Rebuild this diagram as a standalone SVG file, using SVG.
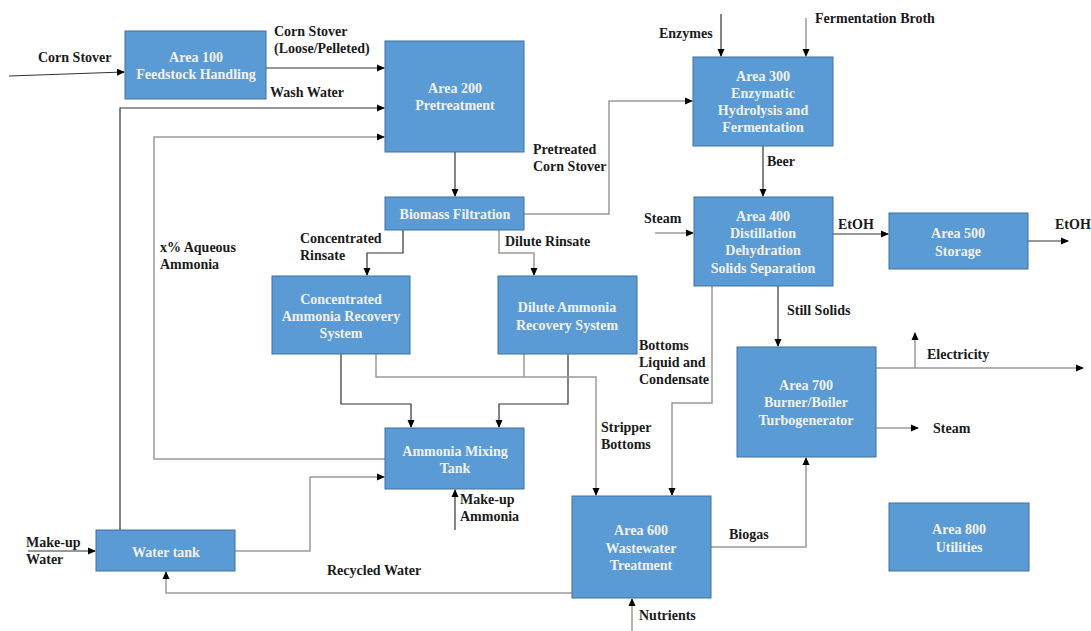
<svg xmlns="http://www.w3.org/2000/svg" width="1091" height="631" viewBox="0 0 1091 631">
<defs>
<marker id="ah" markerWidth="8" markerHeight="8" refX="7" refY="4" orient="auto" markerUnits="userSpaceOnUse"><path d="M0,0.5 L8,4 L0,7.5 Z" fill="#000"/></marker>
<style>
.box{fill:#5b9bd5;stroke:#41719c;stroke-width:1}
.bt{font-family:"Liberation Serif","Times New Roman","DejaVu Serif",serif;font-weight:bold;font-size:14px;fill:#f2f2f2;text-anchor:middle}
.lb{font-family:"Liberation Serif","Times New Roman","DejaVu Serif",serif;font-weight:bold;font-size:14px;fill:#1a1a1a}
.d{fill:none;stroke:#333;stroke-width:1.2}
.g{fill:none;stroke:#9a9a9a;stroke-width:1.5}
.a{marker-end:url(#ah)}
</style>
</defs>
<rect width="1091" height="631" fill="#fff"/>
<g id="connectors">
<path class="d a" d="M9,76 L124,72"/>
<path class="d a" d="M266,68 L384,68"/>
<path class="d a" d="M120,530 L120,108 L384,108"/>
<path class="g a" d="M385,459 L154,459 L154,137 L384,137"/>
<path class="d a" d="M455,152 L455,196"/>
<path class="g a" d="M524,214 L609,214 L609,101 L692,101"/>
<path class="d a" d="M721,14 L721,56"/>
<path class="g a" d="M806,18 L806,56"/>
<path class="d a" d="M763,146 L763,196"/>
<path class="g a" d="M655,233 L693,233"/>
<path class="d a" d="M833,234 L888,234"/>
<path class="d a" d="M1028,241 L1068,241"/>
<path class="d a" d="M778,286 L778,346"/>
<path class="g a" d="M876,368 L1083,368"/>
<path class="g a" d="M915,368 L915,333"/>
<path class="g a" d="M876,428 L918,428"/>
<path class="g a" d="M711,547 L806,547 L806,458"/>
<path class="g a" d="M632,631 L632,599"/>
<path class="g a" d="M572,593 L166,593 L166,572"/>
<path class="d a" d="M28,551 L95,551"/>
<path class="g a" d="M235,551 L310,551 L310,477 L384,477"/>
<path class="d a" d="M455,530 L455,490"/>
<path class="d a" d="M403,230 L403,253 L367,253 L367,275"/>
<path class="g a" d="M499,230 L499,253 L534,253 L534,275"/>
<path class="d a" d="M341,354 L341,404 L411,404 L411,427"/>
<path class="d a" d="M568,354 L568,404 L499,404 L499,427"/>
<path class="g a" d="M376,354 L376,377 L596,377 L596,495"/>
<path class="g" d="M524,354 L524,377"/>
<path class="g a" d="M712,286 L712,403 L672,403 L672,495"/>
</g>
<g id="a100"><rect class="box" x="125" y="31" width="141" height="68"/><text class="bt" x="196" y="62">Area 100</text><text class="bt" x="196" y="79">Feedstock Handling</text></g>
<g id="a200"><rect class="box" x="385" y="41" width="139" height="111"/><text class="bt" x="455" y="93">Area 200</text><text class="bt" x="455" y="110">Pretreatment</text></g>
<g id="biomass"><rect class="box" x="385" y="197" width="139" height="33"/><text class="bt" x="455" y="219">Biomass Filtration</text></g>
<g id="a300"><rect class="box" x="693" y="57" width="140" height="89"/><text class="bt" x="763" y="81">Area 300</text><text class="bt" x="763" y="98">Enzymatic</text><text class="bt" x="763" y="115">Hydrolysis and</text><text class="bt" x="763" y="132">Fermentation</text></g>
<g id="a400"><rect class="box" x="694" y="197" width="139" height="89"/><text class="bt" x="763" y="221">Area 400</text><text class="bt" x="763" y="238">Distillation</text><text class="bt" x="763" y="255">Dehydration</text><text class="bt" x="763" y="273">Solids Separation</text></g>
<g id="a500"><rect class="box" x="889" y="213" width="139" height="56"/><text class="bt" x="958" y="238">Area 500</text><text class="bt" x="958" y="256">Storage</text></g>
<g id="conc"><rect class="box" x="272" y="276" width="138" height="78"/><text class="bt" x="341" y="304">Concentrated</text><text class="bt" x="341" y="321">Ammonia Recovery</text><text class="bt" x="341" y="338">System</text></g>
<g id="dilute"><rect class="box" x="498" y="276" width="139" height="78"/><text class="bt" x="567" y="312">Dilute Ammonia</text><text class="bt" x="567" y="330">Recovery System</text></g>
<g id="a700"><rect class="box" x="737" y="347" width="139" height="110"/><text class="bt" x="806" y="390">Area 700</text><text class="bt" x="806" y="407">Burner/Boiler</text><text class="bt" x="806" y="425">Turbogenerator</text></g>
<g id="mixing"><rect class="box" x="385" y="428" width="139" height="61"/><text class="bt" x="455" y="456">Ammonia Mixing</text><text class="bt" x="455" y="473">Tank</text></g>
<g id="a600"><rect class="box" x="572" y="496" width="139" height="102"/><text class="bt" x="641" y="535">Area 600</text><text class="bt" x="641" y="553">Wastewater</text><text class="bt" x="641" y="570">Treatment</text></g>
<g id="a800"><rect class="box" x="889" y="503" width="140" height="68"/><text class="bt" x="959" y="534">Area 800</text><text class="bt" x="959" y="552">Utilities</text></g>
<g id="watertank"><rect class="box" x="96" y="530" width="139" height="41"/><text class="bt" x="166" y="557">Water tank</text></g>
<g id="labels">
<text class="lb" x="38" y="62">Corn Stover</text>
<text class="lb" x="274" y="36">Corn Stover</text>
<text class="lb" x="274" y="53">(Loose/Pelleted)</text>
<text class="lb" x="270" y="97">Wash Water</text>
<text class="lb" x="533" y="154">Pretreated</text>
<text class="lb" x="533" y="171">Corn Stover</text>
<text class="lb" x="659" y="38">Enzymes</text>
<text class="lb" x="815" y="23">Fermentation Broth</text>
<text class="lb" x="767" y="166">Beer</text>
<text class="lb" x="644" y="223">Steam</text>
<text class="lb" x="838" y="229">EtOH</text>
<text class="lb" x="1055" y="229">EtOH</text>
<text class="lb" x="787" y="315">Still Solids</text>
<text class="lb" x="927" y="359">Electricity</text>
<text class="lb" x="933" y="433">Steam</text>
<text class="lb" x="729" y="539">Biogas</text>
<text class="lb" x="639" y="620">Nutrients</text>
<text class="lb" x="460" y="504">Make-up</text>
<text class="lb" x="460" y="521">Ammonia</text>
<text class="lb" x="601" y="432">Stripper</text>
<text class="lb" x="601" y="449">Bottoms</text>
<text class="lb" x="639" y="350">Bottoms</text>
<text class="lb" x="639" y="367">Liquid and</text>
<text class="lb" x="639" y="384">Condensate</text>
<text class="lb" x="300" y="243">Concentrated</text>
<text class="lb" x="300" y="260">Rinsate</text>
<text class="lb" x="505" y="246">Dilute Rinsate</text>
<text class="lb" x="160" y="252">x% Aqueous</text>
<text class="lb" x="160" y="269">Ammonia</text>
<text class="lb" x="26" y="547">Make-up</text>
<text class="lb" x="26" y="564">Water</text>
<text class="lb" x="327" y="575">Recycled Water</text>
</g>
</svg>
